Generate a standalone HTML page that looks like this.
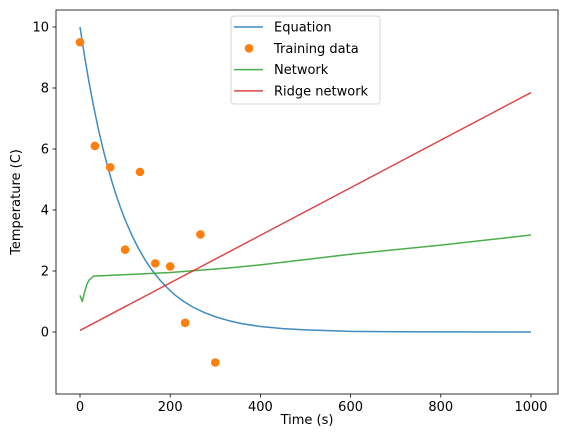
<!DOCTYPE html>
<html><head><meta charset="utf-8"><style>
body{margin:0;background:#fff;font-family:"Liberation Sans","DejaVu Sans",sans-serif}
svg text{font-family:"DejaVu Sans","Liberation Sans",sans-serif;font-size:13px;fill:#000}
</style></head><body>
<svg id="chart" width="563" height="432"></svg>
<script>
const eqTimes=[0,10,20,30,40,50,60,70,80,90,100,115,130,145,160,175,190,210,230,250,275,300,330,360,400,450,500,600,700,800,1000];
const eqValues=[10,9.05,8.19,7.41,6.7,6.07,5.49,4.97,4.49,4.07,3.68,3.17,2.73,2.35,2.02,1.74,1.5,1.22,1.0,0.82,0.64,0.5,0.37,0.27,0.18,0.11,0.07,0.02,0.01,0.003,0];
const trainTimes=[0,33,67,100,133,167,200,233,267,300];
const trainValues=[9.5,6.1,5.4,2.7,5.25,2.25,2.15,0.3,3.2,-1.0];
const netTimes=[0,5,10,15,20,30,100,200,330,400,600,800,1000];
const netValues=[1.2,1.0,1.3,1.55,1.7,1.83,1.88,1.95,2.1,2.2,2.55,2.85,3.18];
const ridgeTimes=[0,1000];
const ridgeValues=[0.05,7.85];
const xTicks=[0,200,400,600,800,1000];
const yTicks=[0,2,4,6,8,10];

const svg=document.getElementById('chart');
const NS='http://www.w3.org/2000/svg';
const L=56,R=558,T=10,B=394;
const xs=v=>80+v*0.451;
const ys=v=>332-v*30.5;
function mk(tag,attrs,parent){const e=document.createElementNS(NS,tag);for(const k in attrs)e.setAttribute(k,attrs[k]);(parent||svg).appendChild(e);return e;}

const frame=mk('rect',{x:L,y:T,width:R-L,height:B-T,fill:'none',stroke:'#000','stroke-width':0.8});



xTicks.forEach(t=>{
  const l=mk('line',{x1:xs(t),x2:xs(t),y1:B,y2:B+3.5,stroke:'#000','stroke-width':0.8});
  
  
  const tx=mk('text',{x:xs(t),y:B+17,'text-anchor':'middle'});tx.textContent=t;
  
  
});
yTicks.forEach(t=>{
  const l=mk('line',{x1:L-3.5,x2:L,y1:ys(t),y2:ys(t),stroke:'#000','stroke-width':0.8});
  
  
  const tx=mk('text',{x:L-7,y:ys(t)+4.5,'text-anchor':'end'});tx.textContent=t;
  
  
});
const xt=mk('text',{x:(L+R)/2,y:424,'text-anchor':'middle'});xt.textContent='Time (s)';


const yt=mk('text',{x:0,y:0,'text-anchor':'middle',transform:`translate(20,${(T+B)/2}) rotate(-90)`});yt.textContent='Temperature (C)';



function line(ts,vs,color,name){
  const p=mk('polyline',{points:ts.map((t,i)=>xs(t)+','+ys(vs[i])).join(' '),fill:'none',stroke:color,'stroke-width':1.5,'stroke-opacity':0.85,'stroke-linejoin':'round'});
  
  
}
line(eqTimes,eqValues,'#1f77b4','equation-line');
trainTimes.forEach((t,i)=>{
  const c=mk('circle',{cx:xs(t),cy:ys(trainValues[i]),r:4.3,fill:'#ff7f0e'});
  
  
});
line(netTimes,netValues,'#2ca02c','network-line');
line(ridgeTimes,ridgeValues,'#d62728','ridge-network-line');

const lg=mk('g',{});


mk('rect',{x:231,y:16,width:149,height:88,rx:3,fill:'#fff','fill-opacity':0.8,stroke:'#ccc','stroke-width':0.8},lg);
const entries=[['Equation','#1f77b4','l'],['Training data','#ff7f0e','p'],['Network','#2ca02c','l'],['Ridge network','#d62728','l']];
entries.forEach((e,i)=>{
  const y=27+i*21.3;
  if(e[2]==='l')mk('line',{x1:234,x2:263,y1:y,y2:y,stroke:e[1],'stroke-width':1.5,'stroke-opacity':0.85},lg);
  else mk('circle',{cx:249,cy:y,r:4.3,fill:e[1]},lg);
  const tx=mk('text',{x:274,y:y+4.5},lg);tx.textContent=e[0];
  
  
});
</script>
</body></html>
